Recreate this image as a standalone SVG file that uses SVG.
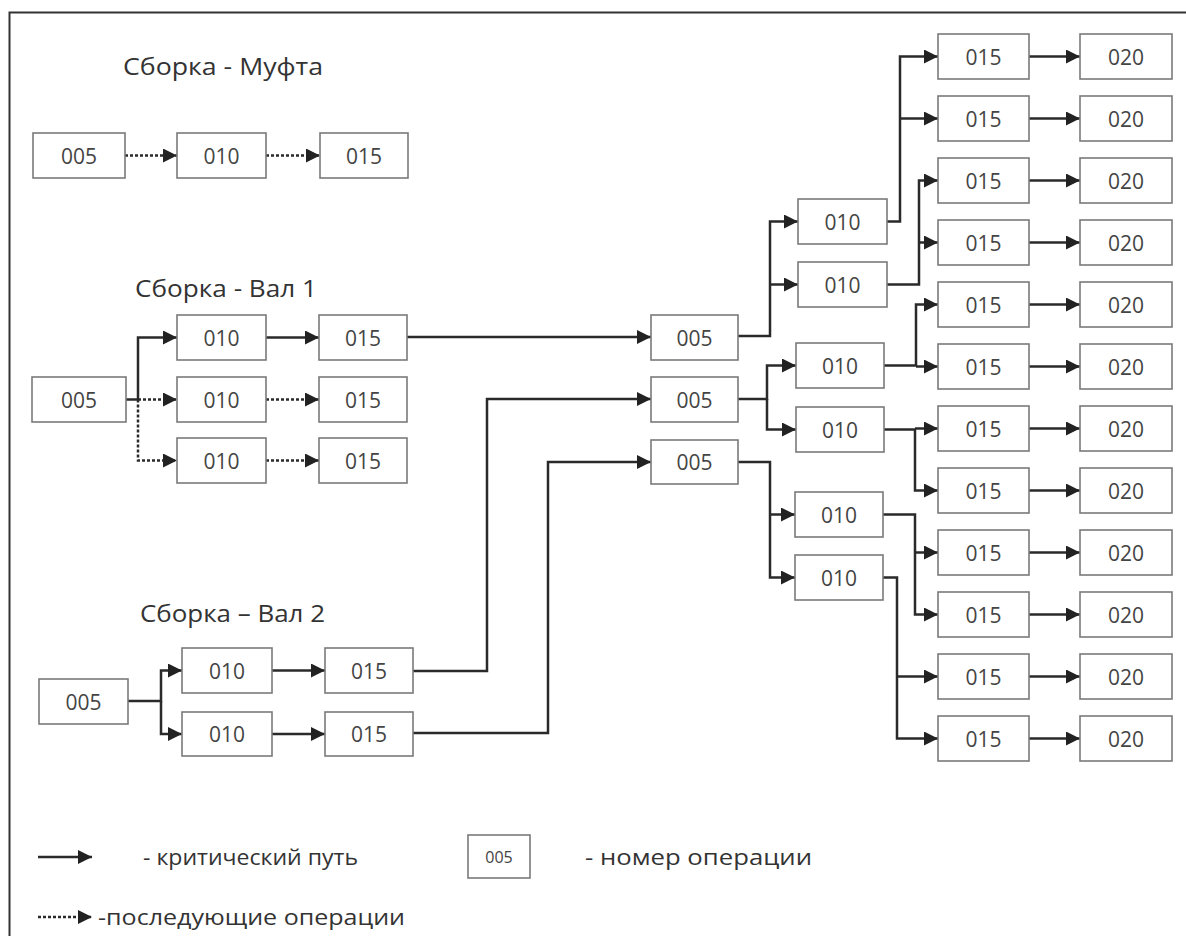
<svg xmlns="http://www.w3.org/2000/svg" width="1186" height="936" viewBox="0 0 1186 936">
<defs>
<marker id="arr" markerUnits="userSpaceOnUse" markerWidth="15" markerHeight="14" refX="14" refY="7" orient="auto">
<path d="M0,0 L14,7 L0,14 z" fill="#222"/>
</marker>
<style>
.box{fill:#fff;stroke:#7a7a7a;stroke-width:1.6}
.lbl{font-family:"Open Sans","Noto Sans",sans-serif;font-size:21px;fill:#444;text-anchor:middle;dominant-baseline:central}
.ttl{font-family:"Open Sans","Noto Sans",sans-serif;font-size:24px;fill:#333}
.leg{font-family:"Open Sans","Noto Sans",sans-serif;font-size:22px;fill:#333}
.c{fill:none;stroke:#2a2a2a;stroke-width:2.5}
.d{fill:none;stroke:#2a2a2a;stroke-width:2.5;stroke-dasharray:3 2}
.a{marker-end:url(#arr)}
</style>
</defs>
<rect x="0" y="0" width="1186" height="936" fill="#fff"/>
<path d="M9.5,936 V12.5 H1186" fill="none" stroke="#333" stroke-width="2"/>

<text class="ttl" x="123" y="75" textLength="200" lengthAdjust="spacingAndGlyphs">Сборка - Муфта</text>
<text class="ttl" x="135" y="297" textLength="182" lengthAdjust="spacingAndGlyphs">Сборка - Вал 1</text>
<text class="ttl" x="140" y="622" textLength="185" lengthAdjust="spacingAndGlyphs">Сборка – Вал 2</text>

<g id="connectors">
<path class="d a" d="M125,155.5 H177"/>
<path class="d a" d="M266,155.5 H320"/>
<path class="c a" d="M126,399.5 H138 V337.5 H177"/>
<path class="d a" d="M138,399.5 H177"/>
<path class="d a" d="M138,399.5 V460.5 H177"/>
<path class="c a" d="M266,337.5 H319"/>
<path class="d a" d="M266,399.5 H319"/>
<path class="d a" d="M266,460.5 H319"/>
<path class="c a" d="M407,337 H651"/>
<path class="c a" d="M128,701 H161 V670.5 H182"/>
<path class="c a" d="M161,701 V734 H182"/>
<path class="c a" d="M272,670.5 H325"/>
<path class="c a" d="M272,734 H325"/>
<path class="c a" d="M413,671 H487 V399 H651"/>
<path class="c a" d="M413,733 H548 V462 H651"/>
<path class="c a" d="M738,336 H770 V221.5 H798"/>
<path class="c a" d="M770,284.5 H798"/>
<path class="c a" d="M738,399 H767 V365.5 H796"/>
<path class="c a" d="M767,399 V429.5 H796"/>
<path class="c a" d="M738,462 H770 V577.5 H795"/>
<path class="c a" d="M770,514.5 H795"/>
<path class="c a" d="M887,221.5 H900 V56.5 H938"/>
<path class="c a" d="M900,118.5 H938"/>
<path class="c a" d="M887,284.5 H919 V180.5 H938"/>
<path class="c a" d="M919,242.5 H938"/>
<path class="c a" d="M884,365.5 H916 V304.5 H938"/>
<path class="c a" d="M916,366.5 H938"/>
<path class="c a" d="M884,429.5 H915 V490.5 H938"/>
<path class="c a" d="M915,428.5 H938"/>
<path class="c a" d="M883,514.5 H915 V614.5 H938"/>
<path class="c a" d="M915,552.5 H938"/>
<path class="c a" d="M883,577.5 H897 V738.5 H938"/>
<path class="c a" d="M897,676.5 H938"/>
<path class="c a" d="M1029,56.5 H1080"/>
<path class="c a" d="M1029,118.5 H1080"/>
<path class="c a" d="M1029,180.5 H1080"/>
<path class="c a" d="M1029,242.5 H1080"/>
<path class="c a" d="M1029,304.5 H1080"/>
<path class="c a" d="M1029,366.5 H1080"/>
<path class="c a" d="M1029,428.5 H1080"/>
<path class="c a" d="M1029,490.5 H1080"/>
<path class="c a" d="M1029,552.5 H1080"/>
<path class="c a" d="M1029,614.5 H1080"/>
<path class="c a" d="M1029,676.5 H1080"/>
<path class="c a" d="M1029,738.5 H1080"/>
</g>

<g id="m005"><rect class="box" x="33" y="133" width="92" height="45"/><text class="lbl" x="79" y="155.5">005</text></g>
<g id="m010"><rect class="box" x="177" y="133" width="89" height="45"/><text class="lbl" x="221.5" y="155.5">010</text></g>
<g id="m015"><rect class="box" x="320" y="133" width="88" height="45"/><text class="lbl" x="364" y="155.5">015</text></g>

<g id="v1_005"><rect class="box" x="32" y="377" width="94" height="45"/><text class="lbl" x="79" y="399.5">005</text></g>
<g id="v1_010a"><rect class="box" x="177" y="315" width="89" height="45"/><text class="lbl" x="221.5" y="337.5">010</text></g>
<g id="v1_015a"><rect class="box" x="319" y="315" width="88" height="45"/><text class="lbl" x="363" y="337.5">015</text></g>
<g id="v1_010b"><rect class="box" x="177" y="377" width="89" height="45"/><text class="lbl" x="221.5" y="399.5">010</text></g>
<g id="v1_015b"><rect class="box" x="319" y="377" width="88" height="45"/><text class="lbl" x="363" y="399.5">015</text></g>
<g id="v1_010c"><rect class="box" x="177" y="438" width="89" height="45"/><text class="lbl" x="221.5" y="460.5">010</text></g>
<g id="v1_015c"><rect class="box" x="319" y="438" width="88" height="45"/><text class="lbl" x="363" y="460.5">015</text></g>

<g id="v2_005"><rect class="box" x="39" y="679" width="89" height="45"/><text class="lbl" x="83.5" y="701.5">005</text></g>
<g id="v2_010a"><rect class="box" x="182" y="648" width="90" height="45"/><text class="lbl" x="227" y="670.5">010</text></g>
<g id="v2_015a"><rect class="box" x="325" y="648" width="88" height="45"/><text class="lbl" x="369" y="670.5">015</text></g>
<g id="v2_010b"><rect class="box" x="182" y="712" width="90" height="44"/><text class="lbl" x="227" y="734">010</text></g>
<g id="v2_015b"><rect class="box" x="325" y="712" width="88" height="44"/><text class="lbl" x="369" y="734">015</text></g>

<g id="s005a"><rect class="box" x="651" y="315" width="87" height="45"/><text class="lbl" x="694.5" y="337.5">005</text></g>
<g id="s005b"><rect class="box" x="651" y="377" width="87" height="45"/><text class="lbl" x="694.5" y="399.5">005</text></g>
<g id="s005c"><rect class="box" x="651" y="440" width="87" height="44"/><text class="lbl" x="694.5" y="462">005</text></g>

<g id="s010a"><rect class="box" x="798" y="199" width="89" height="45"/><text class="lbl" x="842.5" y="221.5">010</text></g>
<g id="s010b"><rect class="box" x="798" y="262" width="89" height="45"/><text class="lbl" x="842.5" y="284.5">010</text></g>
<g id="s010c"><rect class="box" x="796" y="343" width="88" height="45"/><text class="lbl" x="840" y="365.5">010</text></g>
<g id="s010d"><rect class="box" x="796" y="407" width="88" height="45"/><text class="lbl" x="840" y="429.5">010</text></g>
<g id="s010e"><rect class="box" x="795" y="492" width="88" height="45"/><text class="lbl" x="839" y="514.5">010</text></g>
<g id="s010f"><rect class="box" x="795" y="555" width="88" height="45"/><text class="lbl" x="839" y="577.5">010</text></g>

<g id="r015_1"><rect class="box" x="938" y="34" width="91" height="45"/><text class="lbl" x="983.5" y="56.5">015</text></g>
<g id="r020_1"><rect class="box" x="1080" y="34" width="92" height="45"/><text class="lbl" x="1126" y="56.5">020</text></g>
<g id="r015_2"><rect class="box" x="938" y="96" width="91" height="45"/><text class="lbl" x="983.5" y="118.5">015</text></g>
<g id="r020_2"><rect class="box" x="1080" y="96" width="92" height="45"/><text class="lbl" x="1126" y="118.5">020</text></g>
<g id="r015_3"><rect class="box" x="938" y="158" width="91" height="45"/><text class="lbl" x="983.5" y="180.5">015</text></g>
<g id="r020_3"><rect class="box" x="1080" y="158" width="92" height="45"/><text class="lbl" x="1126" y="180.5">020</text></g>
<g id="r015_4"><rect class="box" x="938" y="220" width="91" height="45"/><text class="lbl" x="983.5" y="242.5">015</text></g>
<g id="r020_4"><rect class="box" x="1080" y="220" width="92" height="45"/><text class="lbl" x="1126" y="242.5">020</text></g>
<g id="r015_5"><rect class="box" x="938" y="282" width="91" height="45"/><text class="lbl" x="983.5" y="304.5">015</text></g>
<g id="r020_5"><rect class="box" x="1080" y="282" width="92" height="45"/><text class="lbl" x="1126" y="304.5">020</text></g>
<g id="r015_6"><rect class="box" x="938" y="344" width="91" height="45"/><text class="lbl" x="983.5" y="366.5">015</text></g>
<g id="r020_6"><rect class="box" x="1080" y="344" width="92" height="45"/><text class="lbl" x="1126" y="366.5">020</text></g>
<g id="r015_7"><rect class="box" x="938" y="406" width="91" height="45"/><text class="lbl" x="983.5" y="428.5">015</text></g>
<g id="r020_7"><rect class="box" x="1080" y="406" width="92" height="45"/><text class="lbl" x="1126" y="428.5">020</text></g>
<g id="r015_8"><rect class="box" x="938" y="468" width="91" height="45"/><text class="lbl" x="983.5" y="490.5">015</text></g>
<g id="r020_8"><rect class="box" x="1080" y="468" width="92" height="45"/><text class="lbl" x="1126" y="490.5">020</text></g>
<g id="r015_9"><rect class="box" x="938" y="530" width="91" height="45"/><text class="lbl" x="983.5" y="552.5">015</text></g>
<g id="r020_9"><rect class="box" x="1080" y="530" width="92" height="45"/><text class="lbl" x="1126" y="552.5">020</text></g>
<g id="r015_10"><rect class="box" x="938" y="592" width="91" height="45"/><text class="lbl" x="983.5" y="614.5">015</text></g>
<g id="r020_10"><rect class="box" x="1080" y="592" width="92" height="45"/><text class="lbl" x="1126" y="614.5">020</text></g>
<g id="r015_11"><rect class="box" x="938" y="654" width="91" height="45"/><text class="lbl" x="983.5" y="676.5">015</text></g>
<g id="r020_11"><rect class="box" x="1080" y="654" width="92" height="45"/><text class="lbl" x="1126" y="676.5">020</text></g>
<g id="r015_12"><rect class="box" x="938" y="716" width="91" height="45"/><text class="lbl" x="983.5" y="738.5">015</text></g>
<g id="r020_12"><rect class="box" x="1080" y="716" width="92" height="45"/><text class="lbl" x="1126" y="738.5">020</text></g>

<g id="legend">
<path class="c a" d="M38,857 H92"/>
<text class="leg" x="143" y="865" textLength="215" lengthAdjust="spacingAndGlyphs">- критический путь</text>
<rect class="box" x="468" y="835" width="62" height="43"/>
<text class="lbl" x="499" y="856.5" style="font-size:16px">005</text>
<text class="leg" x="585" y="865" textLength="227" lengthAdjust="spacingAndGlyphs">- номер операции</text>
<path class="d a" d="M38,917 H92"/>
<text class="leg" x="98" y="925" textLength="307" lengthAdjust="spacingAndGlyphs">-последующие операции</text>
</g>
</svg>
